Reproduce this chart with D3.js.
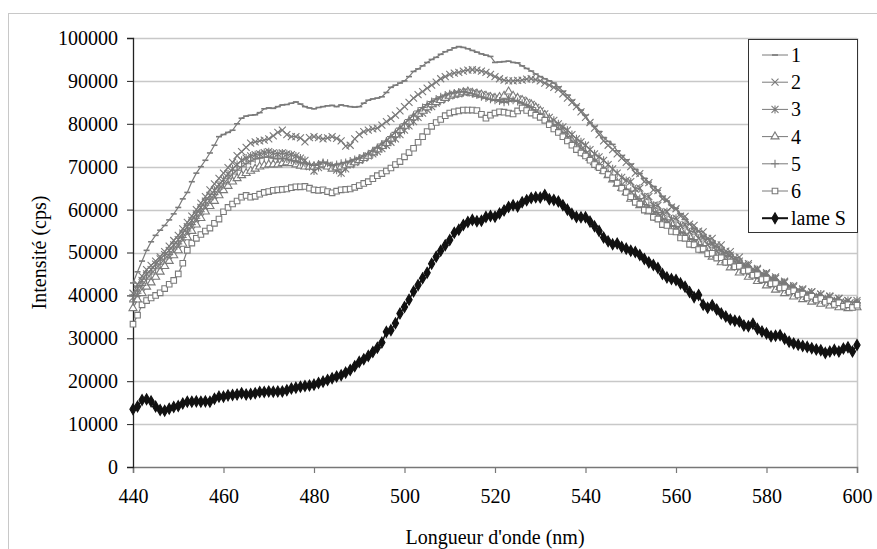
<!DOCTYPE html>
<html><head><meta charset="utf-8">
<script src="https://cdn.jsdelivr.net/npm/d3@7/dist/d3.min.js"></script>
<style>body{margin:0;background:#fff}svg{display:block}</style>
</head><body><svg id="c" width="877" height="549"></svg>
<script>
const FONT = "'Liberation Serif', Tinos, 'DejaVu Serif', serif";
const wavelengths = d3.range(440, 601);
const xTicks = [440,460,480,500,520,540,560,580,600];
const yTicks = [0,10000,20000,30000,40000,50000,60000,70000,80000,90000,100000];
const seriesNames = ["1","2","3","4","5","6","lame S"];
const s1 = [42900,45500,48000,50500,52500,54000,55200,56300,57600,59000,
60500,62500,64000,66500,68500,70000,71500,73200,75000,77000,
77500,78000,78500,80000,81300,81800,82000,82100,82600,83500,
83700,83600,84000,84400,84500,84800,85100,84600,84000,83700,
83500,83800,84000,84200,84300,84000,84400,84200,84000,83900,
84000,84800,85500,85800,86000,86300,87300,88500,89000,89500,
90000,91000,92200,92800,93500,94300,95000,95500,96200,96800,
97200,97700,98000,97800,97500,97100,96700,96300,96000,95700,
94300,94400,94500,94600,94300,94200,93500,92900,92300,91600,
91000,90500,90000,89500,88600,87600,86700,85500,84300,83200,
82000,80200,79400,78200,76800,75900,75200,73700,72600,71600,
70600,69400,68400,67300,66400,65400,64500,63100,62000,61000,
60300,59000,57700,56600,55600,54900,53800,53100,52200,51300,
50600,49900,49100,48400,47600,47100,46500,46000,45400,45000,
44500,44000,43400,43000,42500,42100,41800,41300,41000,40600,
40300,40000,39800,39500,39200,39000,38800,38600,38500,38400,
38600];
const s2 = [40500,42600,44500,46000,47000,48000,49000,50200,51500,52800,
54000,55500,57000,58500,60000,61500,63000,64600,66000,67300,
68500,69800,71000,72600,73500,74500,75500,75800,76000,76200,
76500,77200,78000,78500,77500,77000,77000,76700,75800,76800,
77000,76800,76500,76700,77000,76600,76000,74800,75000,76500,
77500,78200,78500,78800,79000,79700,80500,81200,82000,83000,
84000,85000,86000,86800,87500,88300,89000,89700,90500,91000,
91500,91800,92000,92300,92500,92600,92500,92300,92000,91500,
91000,90500,90200,90000,90000,90100,90200,90400,90500,90300,
90000,89500,89000,88500,88000,87000,86000,85000,84000,82800,
81500,80300,79000,77500,76000,75000,74000,73000,72000,71000,
70000,68500,68400,66500,66300,64600,64400,62500,62300,60600,
60200,58500,58400,56600,56300,55000,54800,53300,53300,51800,
51800,50300,50200,48800,48900,47300,47400,46100,46300,45100,
45300,44100,44300,43100,43300,42200,42300,41300,41500,40500,
40800,39900,40300,39400,39800,38900,39300,38400,38800,37900,
38300];
const s3 = [39500,41500,43500,45000,46000,47300,48500,49500,50500,51800,
53000,54500,56000,57500,59000,60500,62000,63300,64500,65800,
67000,68300,69500,70500,71500,72000,72500,72800,73000,73300,
73500,73200,73000,73200,73000,72800,72500,72000,71500,70000,
69000,69800,70500,70300,70000,69200,68500,69500,70500,71000,
71500,72000,72500,73000,73500,74200,75000,75700,76500,77500,
78500,79500,80500,81500,82500,83300,84000,84800,85500,86000,
86500,86800,87000,87300,87500,87200,87000,86800,86500,86200,
86000,85700,85500,85800,86000,85800,85500,85000,84500,83800,
83000,82300,81500,80800,80000,79300,78500,77500,76500,75800,
75000,74000,73000,72300,71500,70500,69500,68500,67500,66800,
66500,64800,65000,63000,63000,61000,61000,59300,59500,57800,
58000,56300,56500,54800,55000,53300,53500,51800,52000,50300,
50500,49000,49400,47700,48000,46500,47000,45500,46000,44500,
45000,43500,44000,42500,43000,41500,42000,40700,41300,40200,
40800,39700,40300,39200,39800,38700,39300,38300,38800,38000,
38800];
const s4 = [37000,39000,40500,42000,43000,44300,45500,46800,48000,49300,
50500,52000,53500,55000,56500,58000,59500,60800,62000,63300,
64500,65500,66500,67300,68000,68500,69000,69500,70000,70300,
70500,70500,70500,70800,71000,70800,70500,70200,70000,70000,
70000,70300,70500,70000,69500,69800,70000,70300,70500,71000,
71500,72000,72500,73300,74000,74800,75500,76500,77500,78500,
79500,80500,81500,82300,83000,83800,84500,85000,85500,86000,
86500,86800,87000,87300,87500,87200,87000,86800,86500,86200,
86000,86200,86500,87500,86500,86000,85500,85000,84500,83800,
83000,82000,81000,80000,79000,78000,77000,76000,75000,74000,
73000,72000,71000,70000,69000,68000,67000,66000,65000,64000,
62500,62700,61000,61200,59500,59700,58000,58200,56500,56700,
55000,55200,53500,53700,52000,52300,50500,50800,49000,49300,
47700,48100,46500,46900,45300,45800,44300,44800,43300,43800,
42300,42800,41300,41900,40500,41100,39700,40400,39100,39600,
38500,39200,38000,38700,37600,38400,37200,38100,37000,37800,
37200];
const s5 = [38500,40500,42300,43800,45000,46200,47300,48500,49500,50800,
52000,53500,55000,56500,58000,59500,61000,62300,63500,64800,
66000,67200,68300,69200,70000,70700,71300,71800,72000,72200,
72300,72000,71800,72000,71800,71500,71300,71000,70800,70500,
70300,70600,71000,70800,70300,70500,70800,71000,71300,71700,
72000,72500,73000,73700,74500,75300,76000,77000,78000,79000,
80000,81000,82000,83000,83800,84500,85200,85800,86300,86700,
87000,87200,87400,87500,87300,87000,86700,86300,86000,85700,
85500,85300,85000,85200,85500,85200,84800,84300,83800,83000,
82300,81500,80700,79800,79000,78000,77000,76000,75300,74300,
73500,72500,71500,70500,69500,68500,67500,66500,65700,64800,
64300,63000,62600,61200,61000,59600,59300,58000,57600,56300,
56100,54800,54500,53200,53000,51800,51600,50300,50300,49000,
49000,47800,47800,46700,46800,45600,45700,44600,44700,43600,
43800,42700,42900,41900,42100,41100,41300,40300,40600,39700,
40000,39100,39500,38700,39100,38200,38600,37800,38300,37600,
38300];
const s6 = [33300,35400,37800,38800,39400,40000,40600,41600,42600,43500,
45000,47500,50500,52200,53300,54200,55000,55700,56800,57800,
59500,60500,61300,62000,62900,63300,62900,63100,63600,64000,
64200,64500,64600,64700,64800,65100,65300,65300,65400,65000,
64600,64500,64600,64200,63900,64300,64600,64700,64800,65200,
65600,66100,66500,67200,67900,68400,69000,69700,70500,71200,
72300,73300,74300,75700,77000,78200,79400,80300,81000,81900,
82500,82800,83000,83200,83200,83200,83100,82200,81300,82000,
82500,82800,82700,82500,82300,83000,83700,83100,82500,82000,
81500,80800,79800,78800,78000,77000,76000,75000,74000,73200,
72500,71500,70500,69800,69000,68200,67400,66200,65000,64000,
63000,61700,61300,59900,59800,58200,57800,56500,56300,54900,
54800,53400,53300,51900,51800,50700,50800,49700,49800,48700,
48800,47700,47800,46700,46800,45700,45800,44700,44800,43700,
43800,42700,42800,41700,41800,40800,41100,40100,40300,39400,
39800,38900,39300,38400,38800,37900,38300,37500,37800,37200,
37700];
const lameS = [13450,14100,15600,15800,15300,14100,13300,13100,13600,14000,
14200,14800,15200,15200,15300,15200,15300,15200,15900,16400,
16400,16700,16800,16900,17200,16900,17000,17200,17500,17500,
17600,17550,17600,17600,17900,18300,18500,18700,18900,19000,
19200,19600,19900,20300,20700,21100,21400,22000,22600,23500,
24500,25100,25900,26800,27800,29000,31500,31900,33500,35800,
37300,39000,40900,42400,44000,45300,47400,49000,50400,51700,
52900,54600,55300,56400,57100,57600,57300,57400,58300,58500,
58350,59100,59800,60600,61000,60700,61700,62200,62700,62900,
62800,63400,62400,62250,61900,61000,60000,59000,58300,58200,
58200,57200,56100,55000,53500,52600,51900,52100,51300,50900,
50400,50100,49400,48500,47700,47100,46400,45000,44200,43800,
43600,42800,42000,40800,39600,40100,37800,37100,37700,36700,
35800,35100,34400,34100,33900,33000,32800,33400,32200,31600,
31150,30500,30600,30700,29900,29200,28800,28500,28200,28000,
27700,27400,27200,26600,26900,27300,26900,27600,27900,26900,
28450];

const allSeries = [s1,s2,s3,s4,s5,s6,lameS];
const GRAY = "#7a7a7a", BLACK = "#111";
const styles = [
  {color:GRAY, marker:"dash"},
  {color:GRAY, marker:"x"},
  {color:GRAY, marker:"star"},
  {color:GRAY, marker:"tri"},
  {color:GRAY, marker:"plus"},
  {color:GRAY, marker:"square"},
  {color:BLACK, marker:"diamond"}
];

const svg = d3.select("#c");
const L = 133, R = 857, T = 38, B = 467;
svg.append("rect").attr("width",877).attr("height",549).attr("fill","#fff");
svg.append("rect").attr("x",8.5).attr("y",13.5).attr("width",900).attr("height",600)
  .attr("fill","none").attr("stroke","#c8c8c8").attr("stroke-width",1);

const x = d3.scaleLinear().domain([440,600]).range([L,R]);
const y = d3.scaleLinear().domain([0,100000]).range([B,T]);

svg.append("g").selectAll("line").data(yTicks.filter(d=>d>0)).join("line")
  .attr("x1",L).attr("x2",R).attr("y1",d=>Math.round(y(d))+0.5).attr("y2",d=>Math.round(y(d))+0.5)
  .attr("stroke","#c8c8c8").attr("stroke-width",1.5);
svg.append("line").attr("x1",R+0.5).attr("x2",R+0.5).attr("y1",T).attr("y2",B)
  .attr("stroke","#c8c8c8").attr("stroke-width",1.5);

const xAxis = d3.axisBottom(x).tickValues(xTicks).tickSize(6).tickPadding(6).tickFormat(d3.format("d"));
const gx = svg.append("g").attr("transform",`translate(0,${B})`).call(xAxis);
gx.attr("font-family",null);
gx.select(".domain").attr("stroke","#777").attr("stroke-width",1.5);
gx.selectAll(".tick line").attr("stroke","#777").attr("stroke-width",1.2);
gx.selectAll(".tick text").attr("dy","1.2em");

const yAxis = d3.axisLeft(y).tickValues(yTicks).tickSize(6).tickPadding(9).tickFormat(d3.format("d"));
const gy = svg.append("g").attr("transform",`translate(${L},0)`).call(yAxis);
gy.attr("font-family",null);
gy.select(".domain").attr("stroke","#222").attr("stroke-width",1.3);
gy.selectAll(".tick line").attr("stroke","#222");

svg.append("text").attr("x",(L+R)/2).attr("y",544).attr("text-anchor","middle").text("Longueur d'onde (nm)");
svg.append("text").attr("transform",`translate(46,${(T+B)/2}) rotate(-90)`).attr("text-anchor","middle").text("Intensité (cps)");

function drawMarker(g, type, color){
  const p = g.append("path").attr("stroke",color).attr("stroke-width",1.1);
  switch(type){
    case "dash": p.attr("d","M-3,0H3").attr("stroke-width",1.6); break;
    case "x": p.attr("d","M-3.5,-3.5L3.5,3.5M-3.5,3.5L3.5,-3.5").attr("fill","none"); break;
    case "star": p.attr("d","M-3.5,-3.5L3.5,3.5M-3.5,3.5L3.5,-3.5M0,-4V4").attr("fill","none"); break;
    case "plus": p.attr("d","M-4,0H4M0,-4V4").attr("fill","none"); break;
    case "tri": p.attr("d",d3.symbol(d3.symbolTriangle,28)()).attr("fill","#fff"); break;
    case "square": p.attr("d","M-2.8,-2.8H2.8V2.8H-2.8Z").attr("fill","#fff"); break;
    case "diamond": p.attr("d",d3.symbol(d3.symbolDiamond,34)()).attr("fill",color); break;
  }
}

const line = d3.line().x(d=>x(d[0])).y(d=>y(d[1]));
const plot = svg.append("g");
allSeries.forEach((vals,i)=>{
  const pts = wavelengths.map((w,j)=>[w, vals[j]]);
  const st = styles[i];
  const g = plot.append("g");
  g.append("path").datum(pts).attr("d",line).attr("fill","none")
    .attr("stroke",st.color).attr("stroke-width",i===6?1.5:1.2);
  pts.forEach(p=>{
    const m = g.append("g").attr("transform",`translate(${x(p[0])},${y(p[1])})`);
    drawMarker(m, st.marker, st.color);
  });
});

const lg = svg.append("g");
lg.append("rect").attr("x",748.5).attr("y",39.5).attr("width",109).attr("height",193)
  .attr("fill","#fff").attr("stroke","#333").attr("stroke-width",1);
seriesNames.forEach((name,i)=>{
  const cy = 55 + i*27.2;
  const st = styles[i];
  lg.append("line").attr("x1",762).attr("x2",788).attr("y1",cy).attr("y2",cy)
    .attr("stroke",st.color).attr("stroke-width",i===6?2:1);
  const m = lg.append("g").attr("transform",`translate(775,${cy})`);
  drawMarker(m, st.marker, st.color);
  lg.append("text").attr("x",791).attr("y",cy).attr("dy","0.35em").text(name);
});

svg.selectAll("text").style("font-family",FONT).style("font-size","20px").style("fill","#000");
</script></body></html>
